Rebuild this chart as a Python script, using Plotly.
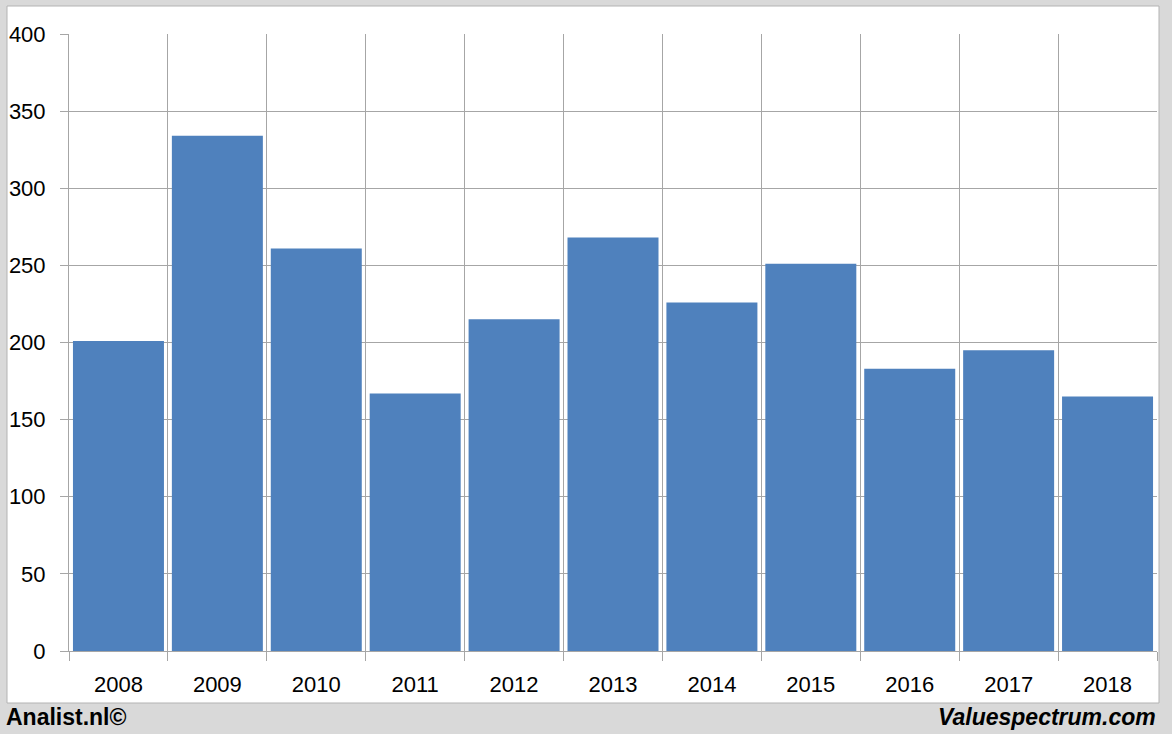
import plotly.graph_objects as go

years = ["2008", "2009", "2010", "2011", "2012", "2013", "2014", "2015", "2016", "2017", "2018"]
values = [201, 334, 261, 167, 215, 268, 226, 251, 183, 195, 165]
y_ticks = [0, 50, 100, 150, 200, 250, 300, 350, 400]

W, H = 1172, 734
L, R, T, B = 69, 15, 34, 83
pw, ph = W - L - R, H - T - B

def px_x(p):
    return (p - L) / pw

def px_y(p):
    return (H - B - p) / ph

font_family = "Liberation Sans, Arial, sans-serif"

fig = go.Figure()
fig.add_trace(go.Bar(
    x=years, y=values,
    marker=dict(color="#4f81bd", line=dict(width=0)),
    hoverinfo="x+y",
))

fig.update_layout(
    width=W, height=H,
    margin=dict(l=L, r=R, t=T, b=B, pad=0, autoexpand=False),
    paper_bgcolor="#d9d9d9",
    plot_bgcolor="white",
    bargap=0.08,
    showlegend=False,
    font=dict(family=font_family, size=22, color="black"),
    xaxis=dict(
        type="category",
        tickson="boundaries",
        automargin=False,
        showgrid=True, gridcolor="#a6a6a6", gridwidth=1,
        ticks="outside", ticklen=9, tickcolor="#a6a6a6",
        showline=True, linecolor="#a6a6a6", linewidth=1,
        ticklabelstandoff=14,
        tickfont=dict(size=22),
        fixedrange=True,
    ),
    yaxis=dict(
        range=[0, 400],
        tickvals=y_ticks,
        automargin=False,
        showgrid=True, gridcolor="#a6a6a6", gridwidth=1,
        ticks="outside", ticklen=8, tickcolor="#a6a6a6",
        showline=True, linecolor="#a6a6a6", linewidth=1,
        zeroline=False,
        ticklabelstandoff=10,
        tickfont=dict(size=22),
        fixedrange=True,
    ),
    shapes=[
        dict(type="rect", xref="paper", yref="paper",
             x0=px_x(7), x1=px_x(1159), y0=px_y(703), y1=px_y(6),
             fillcolor="white", line=dict(color="#b3b3b3", width=1),
             layer="below"),
    ],
    annotations=[
        dict(text="<b>Analist.nl©</b>", xref="paper", yref="paper",
             x=px_x(4), y=px_y(717), xanchor="left", yanchor="middle",
             showarrow=False, font=dict(size=23, family=font_family, color="black")),
        dict(text="<b><i>Valuespectrum.com</i></b>", xref="paper", yref="paper",
             x=px_x(1158), y=px_y(717), xanchor="right", yanchor="middle",
             showarrow=False, font=dict(size=23, family=font_family, color="black")),
    ],
)

fig.write_html("out.html", config={"displayModeBar": False},
               post_script="document.body.style.margin='0px';")
